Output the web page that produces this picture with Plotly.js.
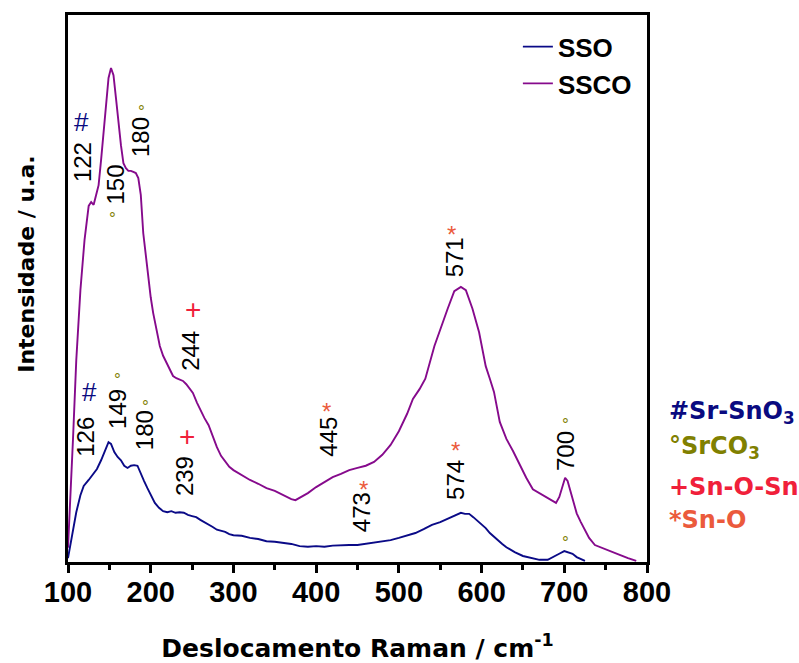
<!DOCTYPE html>
<html>
<head>
<meta charset="utf-8">
<script src="https://cdn.plot.ly/plotly-3.0.1.min.js"></script>
<style>html,body{margin:0;padding:0;background:#fff;}#chart{width:799px;height:663px;}</style>
</head>
<body>
<div id="chart"></div>
<script>
// ---- Data (Raman shift in cm-1, intensity in arbitrary units) ----
var ssoShift = [100,103,106,110,115,119,125,130,135,140,145,149,152,156,160,164,168,172,176,180,184,188,192,196,200,205,210,215,220,225,230,235,240,245,250,255,260,265,270,275,280,285,290,295,300,310,320,330,340,350,360,370,380,390,400,410,420,430,440,450,460,470,480,490,500,510,520,530,540,550,560,570,575,580,585,590,595,600,605,610,615,620,625,630,640,650,660,670,680,690,695,700,705,710,715,720,725];
var ssoInt = [0.7,3.1,5.9,9.1,12.2,13.9,15.0,15.9,17.0,18.6,20.5,21.9,21.6,20.1,19.2,18.6,17.6,17.2,17.6,17.7,17.6,16.1,14.8,13.5,12.2,10.8,9.9,9.3,9.1,9.3,9.0,9.1,9.0,8.6,8.4,8.2,7.7,7.3,6.8,6.4,5.9,5.7,5.5,5.1,4.9,4.8,4.4,4.2,3.8,3.7,3.5,3.3,2.9,2.8,2.9,2.8,3.0,3.1,3.1,3.1,3.3,3.5,3.7,4.0,4.4,4.8,5.3,6.0,6.8,7.3,8.0,8.8,9.0,8.8,8.8,8.2,7.5,6.8,6.2,5.3,4.6,4.0,3.3,2.7,1.8,1.1,0.7,0.4,0.4,1.1,1.6,2.0,1.8,1.5,0.9,0.5,0.2];

var sscoShift = [100,103,106,110,115,120,125,128,131,134,137,140,143,146,149,152,155,158,161,164,167,170,173,176,179,182,185,188,191,194,197,200,203,207,211,215,219,223,227,231,235,239,243,247,251,256,260,265,270,275,280,285,290,295,300,310,320,330,340,350,360,370,375,380,390,400,410,420,430,440,450,460,470,480,490,500,510,517,525,532,543,551,559,567,575,581,589,597,605,610,615,622,630,638,646,654,662,670,678,686,690,694,698,701,704,707,711,715,720,725,730,737,745,757,767,777,787];
var sscoInt = [2.6,11.3,22.3,36.9,49.7,58.9,65.1,65.8,65.3,67.1,68.9,73.5,79.0,84.5,88.5,90.3,89.0,84.8,79.9,76.2,72.9,72.0,71.5,71.5,71.3,71.1,70.2,67.1,60.1,56.1,51.9,48.4,45.5,42.4,39.5,37.7,36.4,35.1,34.0,33.6,33.3,33.1,32.5,31.8,30.9,29.1,27.8,26.3,25.0,23.0,21.0,19.4,18.3,17.4,16.8,15.9,15.0,14.3,13.5,13.0,12.2,11.5,11.3,11.7,12.6,13.7,14.6,15.5,16.1,16.8,17.2,17.6,18.3,19.6,21.4,23.9,27.1,29.8,31.6,33.5,39.5,43.1,46.3,49.5,50.3,49.7,46.3,42.0,35.8,33.5,31.1,25.6,22.5,20.3,17.7,15.4,13.3,12.6,11.9,11.3,10.8,11.9,14.1,15.4,14.8,13.2,11.0,8.9,7.3,5.9,4.4,3.1,2.6,1.8,1.3,0.7,0.2];

var seriesNames = ['SSO', 'SSCO'];
var seriesColors = ['#0a0a87', '#860a8c'];

// Peak position labels (cm-1) and where they sit
var peakLabels = ['122','150','180','126','149','180','239','244','445','473','574','571','700'];
var peakLabelX = [116.9,157.4,188.3,121.8,160.5,191.9,240.2,248.7,414.9,454.2,569.1,566.7,702.1];
var peakLabelY = [73.1,69.1,77.7,22.9,28.0,24.1,15.7,38.6,23.0,9.1,15.0,55.7,20.3];

// Assignment symbols
var symbolText = ['#','#','°','°','°','°','°','°','+','+','*','*','*','*'];
var symbolKind = ['SrSnO3','SrSnO3','SrCO3','SrCO3','SrCO3','SrCO3','SrCO3','SrCO3','SnOSn','SnOSn','SnO','SnO','SnO','SnO'];
var symbolX = [116.9,125.4,153.2,188.3,160.1,193.9,701.7,701.7,243.5,251.5,413.1,456.7,567.9,563.9];
var symbolY = [80.4,31.1,63.8,83.2,34.2,29.3,26.1,4.4,22.9,46.1,28.7,14.4,21.4,61.0];

// Key for the symbols
var keyKinds = ['SrSnO3','SrCO3','SnOSn','SnO'];
var keyTexts = ['#Sr-SnO<sub>3</sub>','°SrCO<sub>3</sub>','+Sn-O-Sn','*Sn-O'];
var kindColors = {SrSnO3:'#0a0a80', SrCO3:'#808000', SnOSn:'#f0203a', SnO:'#eb5a3c'};

var xTitle = 'Deslocamento Raman / cm<sup>-1</sup>';
var yTitle = 'Intensidade / u.a.';

// ---- Build figure ----
var traces = [
  {x: ssoShift, y: ssoInt, name: seriesNames[0], type: 'scatter', mode: 'lines',
   line: {color: seriesColors[0], width: 1.9}},
  {x: sscoShift, y: sscoInt, name: seriesNames[1], type: 'scatter', mode: 'lines',
   line: {color: seriesColors[1], width: 1.9}}
];

var annotations = [];
for (var i = 0; i < peakLabels.length; i++) {
  annotations.push({x: peakLabelX[i], y: peakLabelY[i], xref: 'x', yref: 'y',
    text: peakLabels[i], showarrow: false, textangle: -90,
    font: {family: 'Liberation Sans, Arial, sans-serif', size: 24, color: '#000'},
    xanchor: 'center', yanchor: 'middle'});
}
for (var j = 0; j < symbolText.length; j++) {
  var t = symbolText[j];
  var sz = 26, ys = 0;
  if (t === '°') { sz = 17; ys = -5; }
  if (t === '+') { sz = 28; ys = 0; }
  if (t === '*') { sz = 24; ys = -6; }
  annotations.push({x: symbolX[j], y: symbolY[j], xref: 'x', yref: 'y',
    text: t, showarrow: false, yshift: ys,
    font: {family: 'Liberation Sans, Arial, sans-serif', size: sz, color: kindColors[symbolKind[j]]},
    xanchor: 'center', yanchor: 'middle'});
}
var keyY = [0.274, 0.21, 0.137, 0.077];
for (var k = 0; k < keyKinds.length; k++) {
  annotations.push({x: 1.035, y: keyY[k], xref: 'paper', yref: 'paper',
    text: keyTexts[k], showarrow: false, xanchor: 'left', yanchor: 'middle',
    font: {family: 'DejaVu Sans, sans-serif', size: 24, weight: 'bold', color: kindColors[keyKinds[k]]}});
}
// y axis title (placed as rotated text beside the axis)
annotations.push({x: -0.071, y: 0.545, xref: 'paper', yref: 'paper',
  text: yTitle, showarrow: false, textangle: -90, xanchor: 'center', yanchor: 'middle',
  font: {family: 'DejaVu Sans, sans-serif', size: 22, weight: 'bold', color: '#000'}});

var layout = {
  width: 799, height: 663,
  margin: {l: 68, r: 152, t: 15, b: 101},
  paper_bgcolor: '#fff', plot_bgcolor: '#fff',
  showlegend: true,
  legend: {x: 0.777, y: 0.985, xanchor: 'left', yanchor: 'top', bgcolor: 'rgba(0,0,0,0)',
    font: {family: 'Liberation Sans, Arial, sans-serif', size: 26, weight: 'bold', color: '#000'},
    itemwidth: 30},
  xaxis: {
    range: [100, 800], dtick: 100, tick0: 100,
    ticks: 'outside', ticklen: 8, tickwidth: 3, tickcolor: '#000',
    minor: {dtick: 50, ticks: 'outside', ticklen: 5, tickwidth: 3, tickcolor: '#000'},
    showline: true, linewidth: 3, linecolor: '#000', mirror: true,
    showgrid: false, zeroline: false, ticklabelstandoff: -6,
    tickfont: {family: 'Liberation Sans, Arial, sans-serif', size: 29, weight: 'bold', color: '#000'},
    title: {text: xTitle, standoff: 36,
      font: {family: 'DejaVu Sans, sans-serif', size: 25, weight: 'bold', color: '#000'}}
  },
  yaxis: {
    range: [0, 100], showticklabels: false, ticks: '',
    showline: true, linewidth: 3, linecolor: '#000', mirror: true,
    showgrid: false, zeroline: false
  },
  annotations: annotations
};

Plotly.newPlot('chart', traces, layout, {displayModeBar: false, staticPlot: true});
</script>
</body>
</html>
